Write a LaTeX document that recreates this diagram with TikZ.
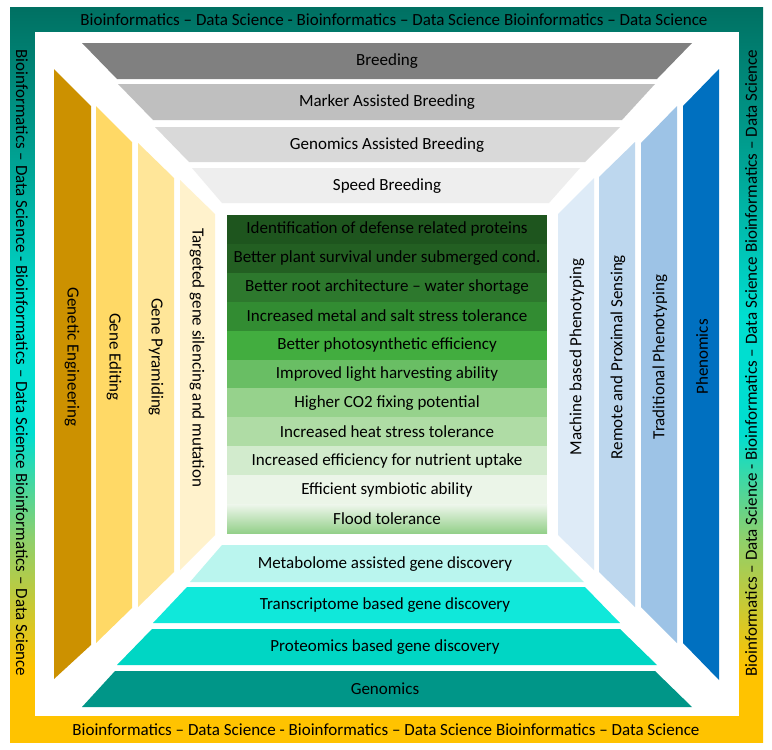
\documentclass[tikz,border=0pt]{standalone}
\usepackage{fontspec}
\setmainfont{Carlito}
%Colours of the frame
\definecolor{frameDark}{RGB}{0,112,98}
\definecolor{frameTeal}{RGB}{0,165,150}
\definecolor{frameCyan}{RGB}{0,222,208}
\definecolor{frameGreen}{RGB}{140,208,110}
\definecolor{frameYellow}{RGB}{255,195,0}
%Colours of the breeding part (top)
\definecolor{breedA}{RGB}{128,128,128}
\definecolor{breedB}{RGB}{191,191,191}
\definecolor{breedC}{RGB}{217,217,217}
\definecolor{breedD}{RGB}{238,238,238}
%Colours of the genomics part (bottom)
\definecolor{genoA}{RGB}{0,150,136}
\definecolor{genoB}{RGB}{0,214,196}
\definecolor{genoC}{RGB}{16,232,218}
\definecolor{genoD}{RGB}{186,245,238}
%Colours of the engineering part (left)
\definecolor{engA}{RGB}{204,145,0}
\definecolor{engB}{RGB}{255,217,102}
\definecolor{engC}{RGB}{255,230,153}
\definecolor{engD}{RGB}{255,242,204}
%Colours of the phenomics part (right)
\definecolor{phenA}{RGB}{0,112,192}
\definecolor{phenB}{RGB}{157,195,230}
\definecolor{phenC}{RGB}{189,215,238}
\definecolor{phenD}{RGB}{222,235,247}
%Colours of the traits in the middle
\definecolor{trait1}{RGB}{30,85,30}
\definecolor{trait2}{RGB}{35,95,34}
\definecolor{trait3}{RGB}{45,120,45}
\definecolor{trait4}{RGB}{50,140,50}
\definecolor{trait5}{RGB}{66,173,63}
\definecolor{trait6}{RGB}{105,190,100}
\definecolor{trait7}{RGB}{150,210,140}
\definecolor{trait8}{RGB}{175,220,165}
\definecolor{trait9}{RGB}{210,235,205}
\definecolor{trait10}{RGB}{235,245,232}
\definecolor{traitTop}{RGB}{238,246,236}
\definecolor{traitBot}{RGB}{148,208,138}
\pgfdeclareverticalshading{frameshade}{100bp}{color(0bp)=(frameYellow); color(30bp)=(frameYellow); color(39bp)=(frameGreen); color(46bp)=(frameCyan); color(54bp)=(frameCyan); color(64bp)=(frameTeal); color(75bp)=(frameDark); color(100bp)=(frameDark)}
\begin{document}
\begin{tikzpicture}[x=1pt,y=-1pt,
	mytext/.style={font=\fontsize{17}{20}\selectfont, inner sep=0pt, text=black},
	myleftstrip/.style={mytext, rotate=-90},
	myrightstrip/.style={mytext, rotate=90}]
	\useasboundingbox (0,0) rectangle (772,750);
	%Outer frame with the colour gradient
	\coordinate (frameNW) at (10,7);
	\coordinate (frameSE) at (763,742);
	\coordinate (innerNW) at (35,32);
	\coordinate (innerSE) at (739,716);
	\shade[shading=frameshade] (frameNW) rectangle (frameSE);
	\fill[white] (innerNW) rectangle (innerSE);
	%Text on the frame
	\node [mytext] (frameTop) at (394,20) {Bioinformatics – Data Science - Bioinformatics – Data Science Bioinformatics – Data Science};
	\node [mytext] (frameBottom) at (386,730) {Bioinformatics – Data Science - Bioinformatics – Data Science Bioinformatics – Data Science};
	\node [myleftstrip] (frameLeft) at (22,363) {Bioinformatics – Data Science - Bioinformatics – Data Science Bioinformatics – Data Science};
	\node [myrightstrip] (frameRight) at (751,363) {Bioinformatics – Data Science - Bioinformatics – Data Science Bioinformatics – Data Science};
	%Breeding trapezoids at the top
	\fill[breedA] (82,43) -- (692,43) -- (657,79) -- (117,79) -- cycle;
	\fill[breedB] (118,84) -- (655,84) -- (622,120) -- (153,120) -- cycle;
	\fill[breedC] (155,127) -- (620,127) -- (585,162) -- (189,162) -- cycle;
	\fill[breedD] (192,168) -- (580,168) -- (549,203) -- (222,203) -- cycle;
	\node [mytext] (breeding) at (387,61) {Breeding};
	\node [mytext] (marker) at (387,102) {Marker Assisted Breeding};
	\node [mytext] (genomicsAssisted) at (387,145) {Genomics Assisted Breeding};
	\node [mytext] (speed) at (387,186) {Speed Breeding};
	%Genomics trapezoids at the bottom
	\fill[genoD] (222,545) -- (547,545) -- (584,582) -- (190,582) -- cycle;
	\fill[genoC] (187,587) -- (585,587) -- (620,623) -- (153,623) -- cycle;
	\fill[genoB] (152,629) -- (620,629) -- (657,665) -- (117,665) -- cycle;
	\fill[genoA] (115,671) -- (655,671) -- (692,707) -- (82,707) -- cycle;
	\node [mytext] (metabolome) at (385,564) {Metabolome assisted gene discovery};
	\node [mytext] (transcriptome) at (385,605) {Transcriptome based gene discovery};
	\node [mytext] (proteomics) at (385,647) {Proteomics based gene discovery};
	\node [mytext] (genomics) at (385,689) {Genomics};
	%Engineering strips on the left
	\fill[engA] (54,69) -- (91,106) -- (91,645) -- (54,679) -- cycle;
	\fill[engB] (96,106) -- (132,142) -- (132,608) -- (96,643) -- cycle;
	\fill[engC] (138,143) -- (174,178) -- (174,572) -- (138,607) -- cycle;
	\fill[engD] (180,180) -- (215,214) -- (215,535) -- (180,570) -- cycle;
	\node [myleftstrip] (geneticEng) at (72,357) {Genetic Engineering};
	\node [myleftstrip] (geneEditing) at (114,357) {Gene Editing};
	\node [myleftstrip] (genePyramiding) at (156,357) {Gene Pyramiding};
	\node [myleftstrip] (targeted) at (197,358) {Targeted gene silencing and mutation};
	%Phenomics strips on the right
	\fill[phenD] (558,214) -- (594,178) -- (594,570) -- (558,535) -- cycle;
	\fill[phenC] (599,177) -- (635,142) -- (635,607) -- (599,572) -- cycle;
	\fill[phenB] (641,143) -- (677,106) -- (677,643) -- (641,607) -- cycle;
	\fill[phenA] (683,106) -- (719,69) -- (719,680) -- (683,643) -- cycle;
	\node [myrightstrip] (machine) at (577,357) {Machine based Phenotyping};
	\node [myrightstrip] (remote) at (618,357) {Remote and Proximal Sensing};
	\node [myrightstrip] (traditional) at (660,357) {Traditional Phenotyping};
	\node [myrightstrip] (phenomics) at (702,357) {Phenomics};
	%Traits in the middle box
	\foreach \i/\txt in {1/Identification of defense related proteins,
		2/Better plant survival under submerged cond.,
		3/Better root architecture – water shortage,
		4/Increased metal and salt stress tolerance,
		5/Better photosynthetic efficiency,
		6/Improved light harvesting ability,
		7/Higher CO2 fixing potential,
		8/Increased heat stress tolerance,
		9/Increased efficiency for nutrient uptake,
		10/Efficient symbiotic ability} {
		\fill[trait\i] (227,{215+(\i-1)*28.9}) rectangle (547,{215+\i*28.9});
		\node [mytext] (trait\i) at (387,{215+(\i-0.5)*28.9}) {\txt};
	}
	\shade[top color=traitTop, bottom color=traitBot] (227,504.1) rectangle (547,533);
	\node [mytext] (trait11) at (387,518.5) {Flood tolerance};
\end{tikzpicture}
\end{document}
